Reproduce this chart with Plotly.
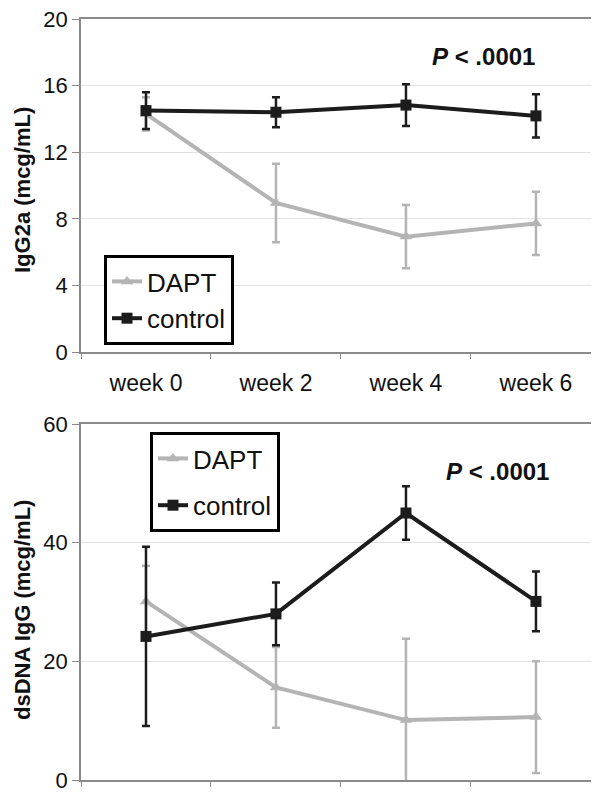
import plotly.graph_objects as go

weeks = ["week 0", "week 2", "week 4", "week 6"]

# Top panel: IgG2a (mcg/mL)
igg2a_dapt = [14.3, 8.95, 6.93, 7.72]
igg2a_dapt_err = [1.0, 2.36, 1.9, 1.9]
igg2a_ctrl = [14.5, 14.4, 14.83, 14.18]
igg2a_ctrl_err = [1.1, 0.9, 1.25, 1.3]

# Bottom panel: dsDNA IgG (mcg/mL)
dsdna_dapt = [30.1, 15.6, 10.1, 10.6]
dsdna_dapt_err = [6.0, 6.8, 13.7, 9.4]
dsdna_ctrl = [24.2, 28.0, 45.0, 30.1]
dsdna_ctrl_err = [15.1, 5.3, 4.5, 5.05]

top_ticks = [0, 4, 8, 12, 16, 20]
bot_ticks = [0, 20, 40, 60]

GRAY = "#b4b4b4"
BLACK = "#1c1c1c"
AXC = "#8a8a8a"
FONT = "Liberation Sans, Arial, sans-serif"

fig = go.Figure()

def add(x, y, err, name, color, symbol, xa, ya, leg, grp):
    fig.add_trace(go.Scatter(
        x=x, y=y, name=name, mode="lines+markers",
        line=dict(color=color, width=4),
        marker=dict(color=color, symbol=symbol, size=11),
        error_y=dict(type="data", array=err, visible=True, color=color,
                     thickness=2.5, width=4),
        xaxis=xa, yaxis=ya, legend=leg, legendgroup=grp,
        cliponaxis=False,
    ))

add(weeks, igg2a_dapt, igg2a_dapt_err, "DAPT", GRAY, "triangle-up", "x", "y", "legend", "a1")
add(weeks, igg2a_ctrl, igg2a_ctrl_err, "control", BLACK, "square", "x", "y", "legend", "a2")
add(weeks, dsdna_dapt, dsdna_dapt_err, "DAPT", GRAY, "triangle-up", "x2", "y2", "legend2", "b1")
add(weeks, dsdna_ctrl, dsdna_ctrl_err, "control", BLACK, "square", "x2", "y2", "legend2", "b2")

# page body has an 8px margin; work in page coordinates and subtract it
OFF = 8.0
FW, FH = 599 - 8, 794 - 8
L = 81.0 - OFF
PW = FW - L


def px(xp):
    return (xp - OFF - L) / PW


def py(yp):
    return 1 - (yp - OFF) / FH


xcommon = dict(
    type="category", range=[-0.5, 3.485], tickson="boundaries",
    showgrid=False, showline=True, linecolor=AXC, linewidth=1.5, mirror=True,
    ticks="outside", ticklen=5, tickcolor=AXC, tickwidth=1,
    tickfont=dict(family=FONT, size=23, color="#111"),
    zeroline=False, fixedrange=True, automargin=False,
    ticklabeloverflow="allow",
)
ycommon = dict(
    showgrid=True, gridcolor="#e2e2e2", gridwidth=1,
    showline=True, linecolor=AXC, linewidth=1.5, mirror=False,
    ticks="outside", ticklen=7, tickcolor=AXC, tickwidth=1,
    tickfont=dict(family=FONT, size=22, color="#111"),
    zeroline=False, fixedrange=True, automargin=False,
    ticklabeloverflow="allow",
)

legcommon = dict(
    xanchor="left", yanchor="top",
    bordercolor="black", borderwidth=3, bgcolor="white",
    font=dict(family=FONT, size=26, color="#111"),
    itemwidth=30,
)

ann_font = dict(family=FONT, size=24, color="#111")
title_font = dict(family=FONT, size=22, color="#111")

fig.update_layout(
    template="none",
    width=FW, height=FH,
    margin=dict(l=L, r=0, t=0, b=0, autoexpand=False),
    paper_bgcolor="white", plot_bgcolor="white",
    font=dict(family=FONT, color="#111"),
    xaxis=dict(**xcommon, anchor="y", ticklabelstandoff=10),
    yaxis=dict(**ycommon, range=[0, 20], tickvals=top_ticks,
               domain=[py(352), py(19)]),
    xaxis2=dict(**xcommon, anchor="y2", showticklabels=False),
    yaxis2=dict(**ycommon, range=[0, 60], tickvals=bot_ticks,
                domain=[py(780), py(424)]),
    legend=dict(x=px(104), y=py(255), tracegroupgap=0, **legcommon),
    legend2=dict(x=px(150), y=py(432), tracegroupgap=10, **legcommon),
    annotations=[
        dict(text="<b><i>P</i> &lt; .0001</b>", x=px(483), y=py(57),
             xanchor="center", yanchor="middle",
             xref="paper", yref="paper", showarrow=False, font=ann_font),
        dict(text="<b><i>P</i> &lt; .0001</b>", x=px(497), y=py(472),
             xanchor="center", yanchor="middle",
             xref="paper", yref="paper", showarrow=False, font=ann_font),
        dict(text="<b>IgG2a (mcg/mL)</b>", x=px(22), y=py(190),
             xanchor="center", yanchor="middle", textangle=-90,
             xref="paper", yref="paper", showarrow=False, font=title_font),
        dict(text="<b>dsDNA IgG (mcg/mL)</b>", x=px(22), y=py(610),
             xanchor="center", yanchor="middle", textangle=-90,
             xref="paper", yref="paper", showarrow=False, font=title_font),
    ],
)

fig.write_html("out.html")
